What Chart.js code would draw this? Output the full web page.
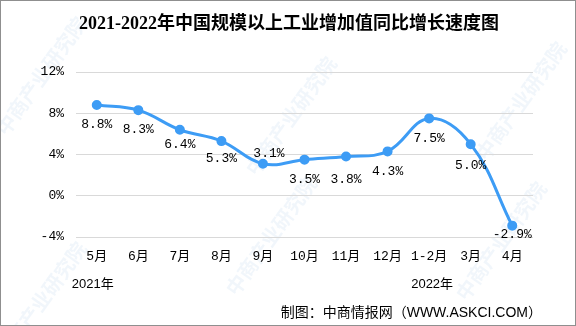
<!DOCTYPE html>
<html>
<head>
<meta charset="utf-8">
<script src="https://cdn.jsdelivr.net/npm/chart.js@4/dist/chart.umd.min.js"></script>
<style>
  html, body { margin: 0; padding: 0; background: #fff; }
  #wrap { position: relative; width: 576px; height: 326px; box-sizing: border-box; border: 1px solid #8f8f8f; }
  canvas { display: block; }
</style>
</head>
<body>
<div id="wrap"><canvas id="chart" width="574" height="324"></canvas></div>
<script>
// 数据
const months = ["5月", "6月", "7月", "8月", "9月", "10月", "11月", "12月", "1-2月", "3月", "4月"];
const growth = [8.8, 8.3, 6.4, 5.3, 3.1, 3.5, 3.8, 4.3, 7.5, 5.0, -2.9];
const yTicks = [-4, 0, 4, 8, 12];
const yearLabels = ["2021年", "2022年"];

// 标签偏移 (像素)
const labelDx = [0, 0, 0, 0, 6, 0, 0, 0, 0, 0, 0];
const labelDy = [20, 19, 15, 17, -10, 20, 23, 20, 20, 21, 9];

const monoFont = "'Liberation Mono', 'Noto Sans CJK SC', monospace";

// 水印
const watermark = {
  id: "watermark",
  beforeDraw(chart) {
    const ctx = chart.ctx;
    const spots = [[40, 75], [290, 115], [520, 100], [40, 300], [270, 235], [500, 240]];
    ctx.save();
    ctx.font = "bold 20px 'Noto Sans CJK SC'";
    ctx.fillStyle = "rgba(120,170,215,0.10)";
    ctx.textAlign = "center";
    ctx.textBaseline = "middle";
    spots.forEach(([x, y]) => {
      ctx.save();
      ctx.translate(x, y);
      ctx.rotate(-0.95);
      ctx.fillText("中商产业研究院", 0, 0);
      ctx.restore();
    });
    ctx.restore();
  }
};

// 标题、数值标签、年份与来源
const extras = {
  id: "extras",
  afterDatasetsDraw(chart) {
    const ctx = chart.ctx;
    ctx.save();
    ctx.fillStyle = "#000";
    ctx.textAlign = "center";
    ctx.textBaseline = "middle";

    ctx.font = "bold 18px 'Liberation Serif', 'Noto Sans CJK SC'";
    ctx.fillText("2021-2022年中国规模以上工业增加值同比增长速度图", 288, 23);

    ctx.font = "13px " + monoFont;
    chart.getDatasetMeta(0).data.forEach((pt, i) => {
      ctx.fillText(growth[i].toFixed(1) + "%", pt.x + labelDx[i], pt.y + labelDy[i]);
    });

    const xs = chart.scales.x;
    ctx.font = "13px 'Liberation Sans', 'Noto Sans CJK SC'";
    ctx.fillText(yearLabels[0], xs.getPixelForValue(0) - 4, 283);
    ctx.fillText(yearLabels[1], xs.getPixelForValue(8) + 3, 283);

    ctx.textAlign = "right";
    ctx.font = "14px 'Liberation Sans', 'Noto Sans CJK SC'";
    ctx.fillText("制图：中商情报网（WWW.ASKCI.COM）", 541, 312);
    ctx.restore();
  }
};

new Chart(document.getElementById("chart"), {
  type: "line",
  data: {
    labels: months,
    datasets: [{
      data: growth,
      borderColor: "#3d9cf5",
      backgroundColor: "#3d9cf5",
      borderWidth: 3,
      pointRadius: 3.5,
      pointHoverRadius: 3.5,
      tension: 0.4,
      fill: false
    }]
  },
  options: {
    responsive: false,
    animation: false,
    layout: { padding: { top: 71, right: 42, bottom: 53, left: 0 } },
    plugins: { legend: { display: false }, tooltip: { enabled: false } },
    scales: {
      x: {
        offset: true,
        grid: { display: false, drawTicks: false },
        border: { display: false },
        ticks: {
          color: "#000", padding: 12, autoSkip: false, maxRotation: 0, minRotation: 0,
          font: { size: 13, family: monoFont }
        },
        afterFit(s) { s.height = 35; }
      },
      y: {
        min: yTicks[0],
        max: yTicks[yTicks.length - 1],
        afterBuildTicks(s) { s.ticks = yTicks.map(v => ({ value: v })); },
        grid: { color: "#d9d9d9", lineWidth: 1, drawTicks: false },
        border: { display: false },
        ticks: { color: "#000", padding: 12, font: { size: 13, family: monoFont }, callback: v => v + "%" },
        afterFit(s) { s.width = 75; }
      }
    }
  },
  plugins: [watermark, extras]
});
</script>
</body>
</html>
